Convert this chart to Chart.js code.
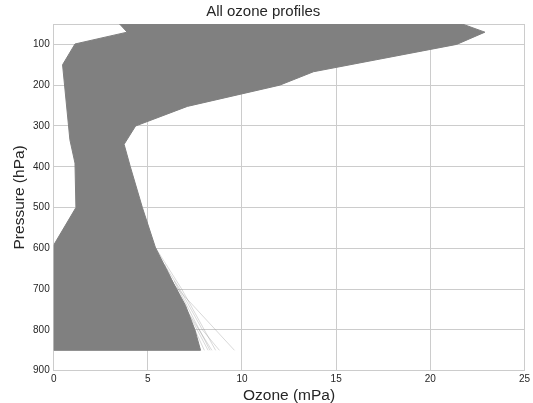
<!DOCTYPE html>
<html>
<head>
<meta charset="utf-8">
<script src="https://cdn.jsdelivr.net/npm/chart.js@4/dist/chart.umd.min.js"></script>
<style>
  body { margin: 0; background: #fff; }
</style>
</head>
<body>
<canvas id="chart" width="533" height="403"></canvas>
<script>
// outer edge of all the profiles: highest readings (right side) and lowest readings (left side)
const maxPressure = [50, 70, 100, 167, 200, 252, 300, 345, 400, 500, 599, 676, 740, 800, 850];
const maxOzone = [21.7, 22.9, 21.4, 13.8, 12.0, 7.1, 4.35, 3.74, 4.07, 4.71, 5.41, 6.25, 7.0, 7.5, 7.8];
const minPressure = [50, 70, 99, 150, 334, 391, 500, 592, 850];
const minOzone = [3.5, 3.9, 1.13, 0.47, 0.86, 1.13, 1.18, 0, 0];

// a few faint profiles that stick out at the lower right
const outlierPressure = [
  [598, 690, 850],
  [598, 700, 850],
  [620, 700, 800, 850],
  [640, 710, 850],
  [650, 720, 850],
  [660, 850],
  [680, 850]
];
const outlierOzone = [
  [5.4, 6.4, 9.6],
  [5.4, 6.8, 8.6],
  [5.6, 6.7, 7.9, 8.8],
  [5.9, 6.5, 8.4],
  [6.0, 6.7, 8.2],
  [6.1, 8.0],
  [6.4, 8.3]
];

const xTicks = [0, 5, 10, 15, 20, 25];
const yTicks = [50, 100, 200, 300, 400, 500, 600, 700, 800, 900];

const FONT = "'Liberation Sans', Arial, sans-serif";
const TEXT = '#262626';
const GRID = '#cccccc';

// build the outline: down the right edge, back up the left edge
const envelope = [];
maxPressure.forEach((p, i) => envelope.push({ x: maxOzone[i], y: p }));
for (let i = minPressure.length - 1; i >= 0; i--) {
  envelope.push({ x: minOzone[i], y: minPressure[i] });
}
envelope.push({ x: maxOzone[0], y: maxPressure[0] });

const datasets = [
  {
    data: envelope,
    showLine: true,
    fill: 'shape',
    backgroundColor: 'rgb(128,128,128)',
    borderColor: 'rgb(128,128,128)',
    borderWidth: 1,
    pointRadius: 0,
    tension: 0
  }
];

outlierPressure.forEach((pressures, k) => {
  datasets.push({
    data: pressures.map((p, i) => ({ x: outlierOzone[k][i], y: p })),
    showLine: true,
    fill: false,
    borderColor: 'rgba(128,128,128,0.3)',
    borderWidth: 1,
    pointRadius: 0
  });
});

new Chart(document.getElementById('chart'), {
  type: 'scatter',
  data: { datasets },
  options: {
    responsive: false,
    animation: false,
    layout: { padding: { left: 0, right: 6.5, top: 0, bottom: 0 } },
    plugins: {
      legend: { display: false },
      tooltip: { enabled: false },
      title: {
        display: true,
        text: 'All ozone profiles',
        color: TEXT,
        font: { family: FONT, size: 15, weight: 'normal', lineHeight: 1.2 },
        padding: { top: 3, bottom: 3 }
      }
    },
    scales: {
      x: {
        type: 'linear',
        min: 0,
        max: 25,
        afterBuildTicks: scale => {
          scale.ticks = xTicks.map(v => ({ value: v }));
        },
        afterFit: scale => {
          scale.height = 32.3;
        },
        ticks: {
          color: TEXT,
          font: { family: FONT, size: 10 },
          padding: 3,
          maxRotation: 0
        },
        grid: { color: GRID, lineWidth: 1, drawTicks: false },
        border: { color: GRID, width: 1 },
        title: {
          display: true,
          text: 'Ozone (mPa)',
          color: TEXT,
          font: { family: FONT, size: 15.5, lineHeight: 1 },
          padding: { top: 0, bottom: 0 }
        }
      },
      y: {
        type: 'linear',
        reverse: true,
        min: 50,
        max: 900,
        afterBuildTicks: scale => {
          scale.ticks = yTicks.map(v => ({ value: v }));
        },
        afterFit: scale => {
          scale.width = 53.7;
        },
        ticks: {
          color: TEXT,
          font: { family: FONT, size: 10 },
          padding: 4,
          callback: v => (v === 50 ? '' : String(v))
        },
        grid: { color: GRID, lineWidth: 1, drawTicks: false },
        border: { color: GRID, width: 1 },
        title: {
          display: true,
          text: 'Pressure (hPa)',
          color: TEXT,
          font: { family: FONT, size: 15.5, lineHeight: 1 },
          padding: { top: 12, bottom: 0 }
        }
      }
    }
  }
});
</script>
</body>
</html>
